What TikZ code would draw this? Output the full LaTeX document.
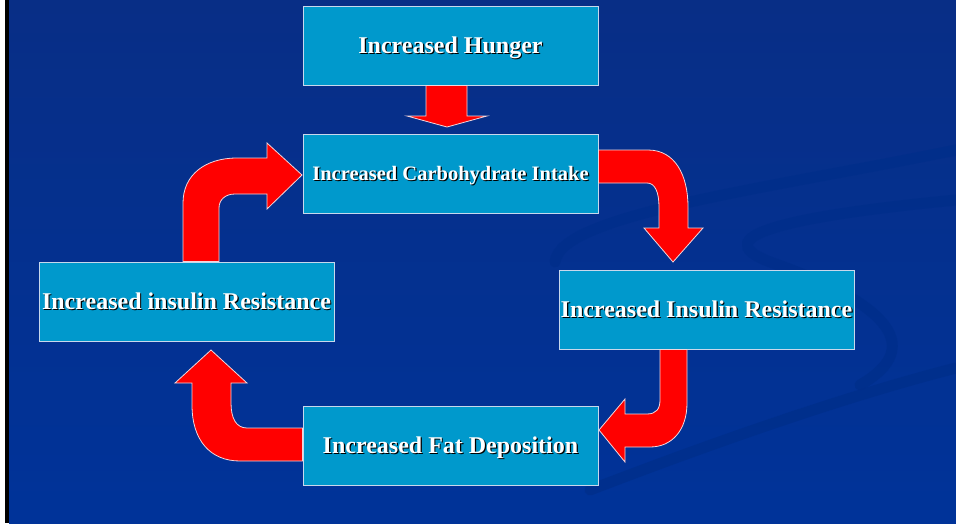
\documentclass[tikz,border=0pt]{standalone}
\usepackage{fontspec}
\setmainfont{Liberation Serif}
\usetikzlibrary{calc}
\definecolor{bgblue}{HTML}{003399}
\definecolor{bgtop}{HTML}{082E86}
\definecolor{swoosh}{HTML}{002E8A}
\definecolor{boxcyan}{HTML}{0099CC}
\definecolor{boxline}{HTML}{C8D8EC}
\definecolor{arrowred}{HTML}{FF0000}
\definecolor{arrowline}{HTML}{F2D6DC}
\newcommand\shtext[1]{\makebox[0pt][l]{\kern1.2pt\raisebox{-1.2pt}{\color{black}#1}}#1}

\begin{document}
\begin{tikzpicture}[x=1pt,y=-1pt,
 cyclebox/.style={draw=boxline,fill=boxcyan,line width=1pt,minimum width=295pt,minimum height=79pt,inner sep=0pt,text height=16pt,text depth=0pt,text=white,font=\fontsize{24}{28}\selectfont\bfseries},
 redarrow/.style={fill=arrowred,draw=arrowline,line width=.8pt},
 wave/.style={draw=swoosh,line width=11pt,line cap=round,opacity=.75}]
\useasboundingbox (0,0) rectangle (956,523);
\fill[white] (0,0) rectangle (5,523);
\fill[black] (5,0) rectangle (9,523);
\shade[top color=bgtop,bottom color=bgblue] (9,0) rectangle (956,523);
% background swooshes
\draw[wave] (555,262) .. controls (560,215) and (760,190) .. (956,150);
\draw[wave] (956,200) .. controls (800,215) and (700,235) .. (770,262) .. controls (880,300) and (930,345) .. (860,385);
\draw[wave] (590,490) .. controls (720,440) and (850,395) .. (956,368);
% boxes
\foreach \n/\p/\t in {hunger/{450.5,45.5}/{Increased Hunger},resR/{706.5,309.5}/{Increased Insulin Resistance},resL/{186.5,301.5}/{Increased insulin Resistance},fat/{450.5,445.5}/{Increased Fat Deposition}}{\node[cyclebox] (\n) at (\p) {\shtext{\t}};}
\node[cyclebox,text height=13.6pt,font=\fontsize{20.5}{24}\selectfont\bfseries] (carb) at (450.5,173.5) {\shtext{Increased Carbohydrate Intake}};
% block arrows
\draw[redarrow] (hunger.south -| 426,0) -- (426,116) -- (407,116) -- (447,127) -- (487,116) -- (467,116) -- (hunger.south -| 467,0) -- cycle;
\draw[redarrow] (carb.east |- 0,150) -- (648,150) .. controls (675,150) and (688,175) .. (688,207) -- (688,228) -- (703,228) -- (673,262) -- (644,228) -- (659,228) -- (659,207) .. controls (659,192) and (655,183) .. (647,183) -- (carb.east |- 0,183) -- cycle;
\draw[redarrow] (resR.south -| 687,0) -- (687,403) .. controls (687,430) and (672,447) .. (650,447) -- (625,447) -- (625,462) -- (599,430) -- (625,399) -- (625,414) -- (647,414) .. controls (656,414) and (660,409) .. (660,400) -- (resR.south -| 660,0) -- cycle;
\draw[redarrow] (fat.west |- 0,428) -- (247,428) .. controls (236,428) and (231,418) .. (231,403) -- (231,383) -- (247,383) -- (211,350) -- (175,383) -- (192,383) -- (192,405) .. controls (192,440) and (210,461) .. (240,461) -- (fat.west |- 0,461) -- cycle;
\draw[redarrow] (resL.north -| 183,0) -- (183,203) .. controls (183,175) and (205,158) .. (237,158) -- (267,158) -- (267,143) -- (302,175) -- (267,209) -- (267,194) -- (235,194) .. controls (225,194) and (219,200) .. (219,208) -- (resL.north -| 219,0) -- cycle;
\end{tikzpicture}
\end{document}
